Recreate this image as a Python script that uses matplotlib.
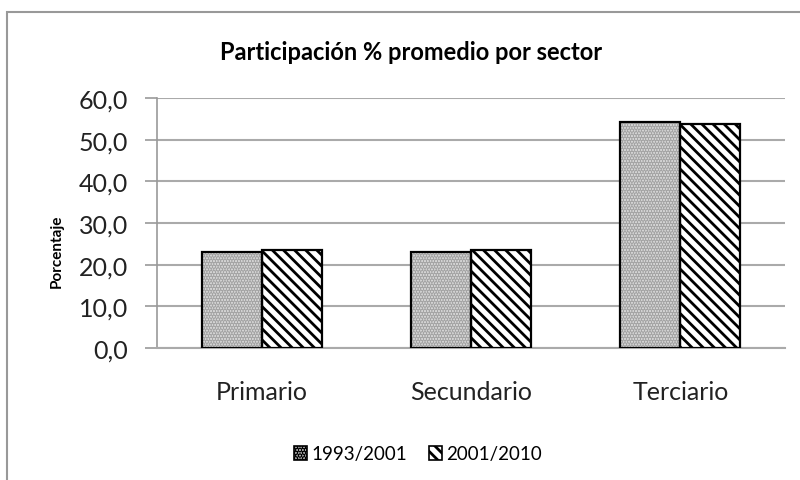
import matplotlib
matplotlib.use("Agg")
import matplotlib.pyplot as plt
from matplotlib.patches import Rectangle, Patch
import numpy as np

categories = ["Primario", "Secundario", "Terciario"]
series_names = ["1993/2001", "2001/2010"]
values_1993_2001 = [23.0, 23.1, 54.2]
values_2001_2010 = [23.5, 23.5, 53.7]
yticks = [0, 10, 20, 30, 40, 50, 60]
ytick_labels = ["0,0", "10,0", "20,0", "30,0", "40,0", "50,0", "60,0"]

plt.rcParams["font.family"] = ["Lato", "DejaVu Sans"]
plt.rcParams["hatch.linewidth"] = 2.0

fig = plt.figure(figsize=(8.0, 4.81), dpi=100)
ax = fig.add_axes([157/800, 1-349/481, (785-157)/800, (349-99)/481])

x = np.arange(len(categories))
w = 0.287

dot_face = "#dcdcdc"
dot_hatch = "......"

# series 1: dotted grey pattern
ax.bar(x - w/2, values_1993_2001, w, color=dot_face, hatch=dot_hatch,
       edgecolor="#a4a4a4", linewidth=0, zorder=3)
ax.bar(x - w/2, values_1993_2001, w, fill=False, edgecolor="black",
       linewidth=1.6, zorder=4)
# series 2: diagonal stripes
ax.bar(x + w/2, values_2001_2010, w, color="white", hatch="\\\\\\",
       edgecolor="black", linewidth=0, zorder=3)
ax.bar(x + w/2, values_2001_2010, w, fill=False, edgecolor="black",
       linewidth=1.6, zorder=4)

ax.set_xlim(-0.5, len(categories) - 0.5)
ax.set_ylim(0, 60)
ax.set_yticks(yticks)
ax.set_yticklabels(ytick_labels, fontsize=18, color="#222222")
ax.set_xticks(x)
ax.set_xticklabels(categories, fontsize=18, color="#222222")
ax.tick_params(axis="x", length=0, pad=23)
ax.tick_params(axis="y", length=9, width=1.2, color="#999999", pad=12)
ax.yaxis.grid(True, color="#aaaaaa", linewidth=1.5, zorder=0)
for s in ["top", "right"]:
    ax.spines[s].set_visible(False)
ax.spines["left"].set_color("#999999")
ax.spines["left"].set_linewidth(1.2)
ax.spines["bottom"].set_color("#aaaaaa")
ax.spines["bottom"].set_linewidth(1.5)

ax.set_ylabel("Porcentaje", fontsize=11, fontweight="bold")
ax.yaxis.set_label_coords((64 - 157) / (785 - 157), (349 - 251) / 250)
fig.text(411/800, 1-52/481, "Participación % promedio por sector",
         ha="center", va="center", fontsize=17, fontweight="bold")

handles = [
    Patch(facecolor="#bcbcbc", edgecolor="black", hatch=dot_hatch, linewidth=1.2),
    Patch(facecolor="white", edgecolor="black", hatch="\\\\\\", linewidth=1.2),
]
fig.legend(handles, series_names, loc="center", bbox_to_anchor=(418/800, 1-455/481),
           ncol=2, frameon=False, fontsize=13.5, handlelength=0.7, handleheight=0.7,
           handletextpad=0.2, columnspacing=1.2)

fig.patches.append(Rectangle((7/800, -0.2), 1.5, 1.2 - 13/481,
                             transform=fig.transFigure, fill=False,
                             edgecolor="#999999", linewidth=1.5))

fig.savefig("out.png", dpi=100)
